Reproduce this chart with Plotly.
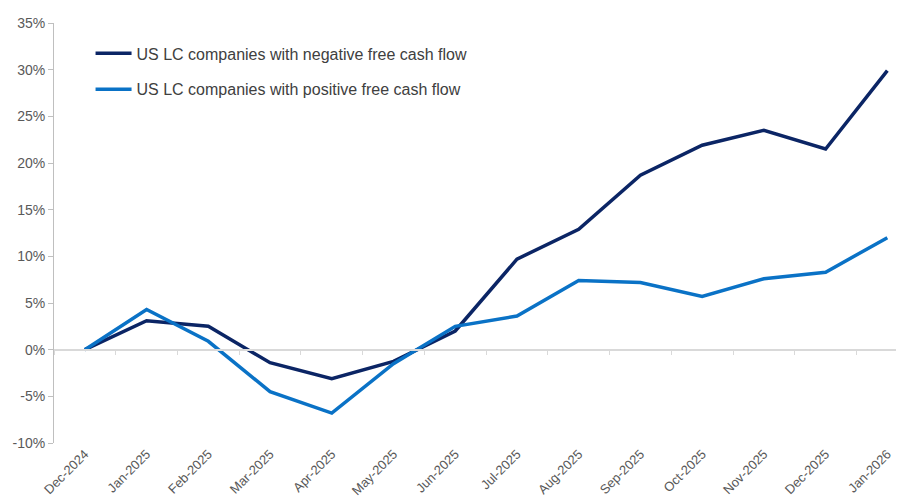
import plotly.graph_objects as go

months = ["Dec-2024", "Jan-2025", "Feb-2025", "Mar-2025", "Apr-2025", "May-2025", "Jun-2025",
          "Jul-2025", "Aug-2025", "Sep-2025", "Oct-2025", "Nov-2025", "Dec-2025", "Jan-2026"]
negative_fcf = [0.0, 3.1, 2.5, -1.4, -3.1, -1.25, 2.0, 9.7, 12.9, 18.7, 21.9, 23.5, 21.5, 29.9]
positive_fcf = [0.0, 4.3, 0.9, -4.5, -6.8, -1.5, 2.5, 3.6, 7.4, 7.2, 5.7, 7.6, 8.3, 12.0]
names = ["US LC companies with negative free cash flow", "US LC companies with positive free cash flow"]
y_ticks = list(range(-10, 40, 5))

fig = go.Figure()
fig.add_trace(go.Scatter(x=months, y=negative_fcf, mode="lines", name=names[0], legendgroup="a",
                         line=dict(color="#0b2565", width=3.5)))
fig.add_trace(go.Scatter(x=months, y=positive_fcf, mode="lines", name=names[1], legendgroup="b",
                         line=dict(color="#0a72c6", width=3.5)))
# invisible trace to drive the zero-line axis
fig.add_trace(go.Scatter(x=months, y=[0]*len(months), mode="lines", xaxis="x2",
                         line=dict(width=0), showlegend=False, hoverinfo="skip"))

# page body adds an 8px offset; compensate with size/margins
fig.update_layout(
    width=896, height=490,
    margin=dict(l=46, r=0, t=15, b=55, autoexpand=False),
    paper_bgcolor="white", plot_bgcolor="white",
    font=dict(family="Liberation Sans, Arial, sans-serif", color="#595959", size=12),
    legend=dict(x=0.043, y=0.968, xanchor="left", yanchor="top",
                font=dict(size=16, color="#404040"), itemwidth=36,
                tracegroupgap=12, traceorder="grouped", bgcolor="rgba(0,0,0,0)"),
    showlegend=True,
    xaxis=dict(type="category", range=[-0.5, 13.27], tickangle=-45, automargin=False,
               showline=False, ticks="", showgrid=False, zeroline=False,
               tickfont=dict(size=13, color="#595959")),
    xaxis2=dict(type="category", range=[-0.5, 13.27], overlaying="x", anchor="free",
                position=10/45, showline=True, linecolor="#d9d9d9", linewidth=1.5,
                ticks="outside", tickson="boundaries", ticklen=5, tickcolor="#d9d9d9",
                showticklabels=False, showgrid=False, zeroline=False),
    yaxis=dict(range=[-10, 35], tickvals=y_ticks, automargin=False,
               ticktext=[f"{v}%" for v in y_ticks],
               showline=True, linecolor="#bfbfbf", linewidth=1,
               ticks="outside", ticklen=5, tickcolor="#bfbfbf",
               showgrid=False, zeroline=False,
               tickfont=dict(size=14, color="#595959")),
)

fig.write_html("out.html")
